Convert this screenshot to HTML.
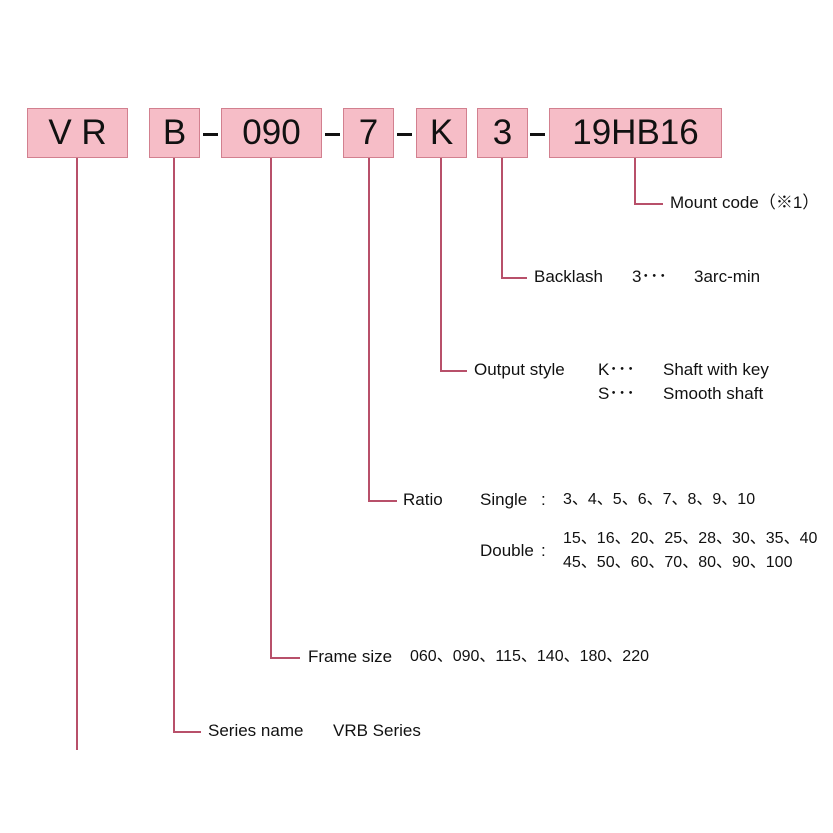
<!DOCTYPE html>
<html><head><meta charset="utf-8"><style>
body{margin:0;width:833px;height:833px;background:#fff;position:relative;overflow:hidden;font-family:"Liberation Sans","Noto Sans CJK JP",sans-serif;color:#111}
.b{position:absolute;top:108px;height:48px;background:#f6bdc7;border:1px solid #d2808f;font-size:35px;line-height:48px;text-align:center;color:#111}
.d{position:absolute;top:133px;height:3px;width:15px;background:#111}
.v{position:absolute;width:1.5px;background:#b8506a}
.h{position:absolute;height:1.5px;background:#b8506a}
.t{position:absolute;font-size:17px;line-height:20px;white-space:nowrap;transform:translateY(-10px)}
.n{font-size:16px}
</style></head><body>
<div class="b" style="left:27px;width:99px">V R</div>
<div class="b" style="left:149px;width:49px">B</div>
<div class="d" style="left:203px"></div>
<div class="b" style="left:221px;width:99px">090</div>
<div class="d" style="left:325px"></div>
<div class="b" style="left:343px;width:49px">7</div>
<div class="d" style="left:397px"></div>
<div class="b" style="left:416px;width:49px">K</div>
<div class="b" style="left:477px;width:49px">3</div>
<div class="d" style="left:530px"></div>
<div class="b" style="left:549px;width:171px">19HB16</div>

<div class="v" style="left:76px;top:158px;height:592px"></div>
<div class="v" style="left:173px;top:158px;height:574px"></div><div class="h" style="left:173px;top:731px;width:28px"></div>
<div class="v" style="left:270px;top:158px;height:500px"></div><div class="h" style="left:270px;top:657px;width:30px"></div>
<div class="v" style="left:368px;top:158px;height:343px"></div><div class="h" style="left:368px;top:500px;width:29px"></div>
<div class="v" style="left:440px;top:158px;height:213px"></div><div class="h" style="left:440px;top:370px;width:27px"></div>
<div class="v" style="left:501px;top:158px;height:120px"></div><div class="h" style="left:501px;top:277px;width:26px"></div>
<div class="v" style="left:634px;top:158px;height:46px"></div><div class="h" style="left:634px;top:203px;width:29px"></div>

<div class="t" style="left:670px;top:203px">Mount code（※1）</div>
<div class="t" style="left:534px;top:277px">Backlash</div>
<div class="t" style="left:632px;top:277px">3･･･</div>
<div class="t" style="left:694px;top:277px">3arc-min</div>
<div class="t" style="left:474px;top:370px">Output style</div>
<div class="t" style="left:598px;top:370px">K･･･</div>
<div class="t" style="left:663px;top:370px">Shaft with key</div>
<div class="t" style="left:598px;top:394px">S･･･</div>
<div class="t" style="left:663px;top:394px">Smooth shaft</div>
<div class="t" style="left:403px;top:500px">Ratio</div>
<div class="t" style="left:480px;top:500px">Single</div>
<div class="t" style="left:541px;top:500px">:</div>
<div class="t n" style="left:563px;top:500px">3、4、5、6、7、8、9、10</div>
<div class="t" style="left:480px;top:551px">Double</div>
<div class="t" style="left:541px;top:551px">:</div>
<div class="t n" style="left:563px;top:539px">15、16、20、25、28、30、35、40</div>
<div class="t n" style="left:563px;top:563px">45、50、60、70、80、90、100</div>
<div class="t" style="left:308px;top:657px">Frame size</div>
<div class="t n" style="left:410px;top:657px">060、090、115、140、180、220</div>
<div class="t" style="left:208px;top:731px">Series name</div>
<div class="t" style="left:333px;top:731px">VRB Series</div>
</body></html>
